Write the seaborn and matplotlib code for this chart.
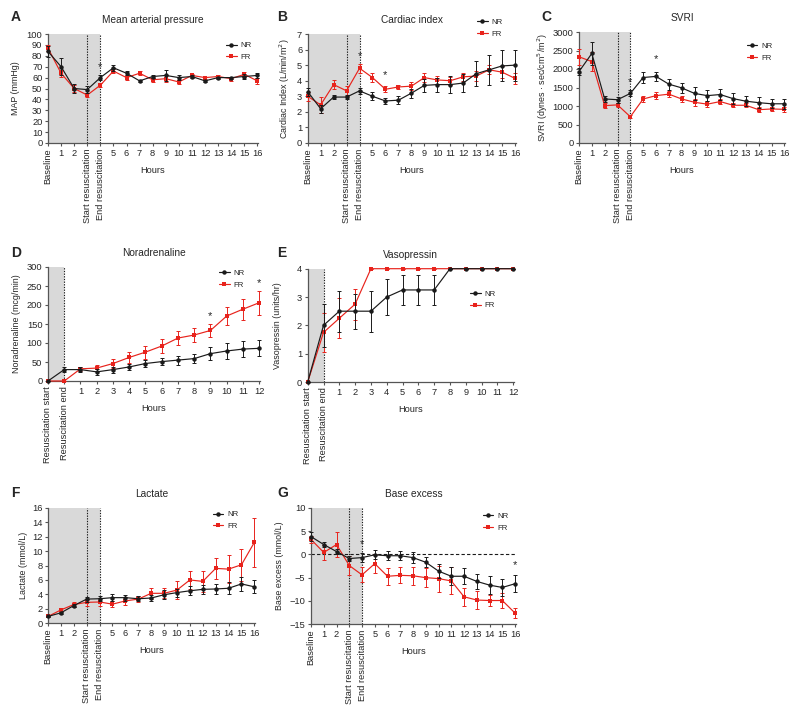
import numpy as np
import matplotlib
matplotlib.use('Agg')
import matplotlib.pyplot as plt
import seaborn as sns

# ---- data ----
hours_long = ['Baseline', '1', '2', 'Start resuscitation', 'End resuscitation'] + \
             [str(h) for h in range(5, 17)]
hours_short = ['Resuscitation start', 'Resuscitation end'] + [str(h) for h in range(1, 13)]

map_nr     = [84, 70, 50, 49, 60, 69, 64, 57, 61, 62, 60, 61, 57, 60, 60, 61, 62]
map_nr_err = [5, 8, 4, 3, 2, 3, 2, 1, 1, 5, 2, 1, 1, 1, 1, 2, 2]
map_fr     = [87, 64, 50, 44, 53, 66, 60, 64, 58, 59, 56, 62, 60, 61, 59, 63, 57]
map_fr_err = [3, 3, 3, 2, 2, 2, 2, 2, 2, 3, 2, 1, 1, 1, 2, 2, 3]
map_stars  = [(4, 70)]

ci_nr     = [3.3, 2.2, 2.95, 2.95, 3.35, 3.0, 2.7, 2.75, 3.2, 3.7, 3.75, 3.75, 3.85, 4.45, 4.7, 4.95, 5.0]
ci_nr_err = [0.25, 0.25, 0.15, 0.15, 0.2, 0.25, 0.2, 0.25, 0.3, 0.4, 0.45, 0.55, 0.6, 0.8, 0.95, 1.0, 1.0]
ci_fr     = [3.0, 2.45, 3.75, 3.35, 4.8, 4.2, 3.45, 3.6, 3.65, 4.2, 4.05, 4.0, 4.25, 4.3, 4.7, 4.55, 4.15]
ci_fr_err = [0.3, 0.5, 0.3, 0.3, 0.3, 0.3, 0.2, 0.15, 0.25, 0.3, 0.25, 0.25, 0.25, 0.3, 0.3, 0.4, 0.35]
ci_stars  = [(4, 5.6), (6, 4.35)]

svri_nr     = [1930, 2420, 1190, 1170, 1340, 1770, 1800, 1590, 1490, 1340, 1280, 1310, 1200, 1130, 1090, 1060, 1060]
svri_nr_err = [100, 300, 80, 80, 80, 160, 130, 150, 140, 170, 150, 150, 140, 140, 140, 120, 140]
svri_fr     = [2330, 2200, 1010, 1030, 710, 1190, 1280, 1320, 1190, 1100, 1050, 1120, 1020, 1020, 900, 920, 910]
svri_fr_err = [220, 250, 70, 60, 40, 90, 90, 90, 90, 100, 90, 60, 50, 60, 70, 50, 60]
svri_stars  = [(4, 1640), (6, 2280)]

nor_nr     = [0, 30, 30, 24, 30, 37, 46, 51, 55, 59, 72, 79, 84, 86]
nor_nr_err = [0, 7, 7, 7, 8, 9, 10, 10, 12, 12, 17, 20, 21, 21]
nor_fr     = [0, 0, 32, 34, 46, 62, 76, 92, 113, 121, 133, 171, 189, 206]
nor_fr_err = [0, 0, 5, 8, 12, 15, 17, 18, 19, 18, 18, 24, 28, 32]
nor_stars  = [(10, 172), (13, 258)]

vaso_nr     = [0, 2.0, 2.5, 2.5, 2.5, 3.0, 3.25, 3.25, 3.25, 4, 4, 4, 4, 4]
vaso_nr_err = [0, 0.75, 0.72, 0.62, 0.72, 0.65, 0.52, 0.52, 0.52, 0, 0, 0, 0, 0]
vaso_fr     = [0, 1.75, 2.25, 2.75, 4, 4, 4, 4, 4, 4, 4, 4, 4, 4]
vaso_fr_err = [0, 0.7, 0.7, 0.55, 0, 0, 0, 0, 0, 0, 0, 0, 0, 0]

lac_nr     = [0.95, 1.45, 2.45, 3.35, 3.4, 3.55, 3.55, 3.4, 3.5, 3.95, 4.25, 4.5, 4.7, 4.75, 4.85, 5.45, 5.05]
lac_nr_err = [0.1, 0.15, 0.25, 0.35, 0.35, 0.45, 0.4, 0.35, 0.45, 0.6, 0.55, 0.6, 0.65, 0.75, 0.8, 1.0, 0.9]
lac_fr     = [0.95, 1.85, 2.6, 2.9, 2.95, 2.65, 3.1, 3.35, 4.15, 4.15, 4.6, 6.0, 5.8, 7.6, 7.5, 8.1, 11.2]
lac_fr_err = [0.1, 0.2, 0.4, 0.5, 0.5, 0.45, 0.5, 0.4, 0.8, 0.7, 1.2, 1.2, 1.4, 1.5, 1.95, 2.25, 3.4]

be_nr     = [3.8, 2.1, 0.6, -0.9, -0.7, -0.1, -0.3, -0.3, -0.7, -1.7, -3.6, -4.7, -4.7, -5.8, -6.6, -7.1, -6.3]
be_nr_err = [0.9, 0.5, 0.5, 0.6, 1.0, 1.0, 1.0, 1.0, 1.1, 1.1, 1.5, 1.9, 1.7, 1.6, 1.9, 1.8, 1.8]
be_fr     = [3.2, 0.4, 2.1, -2.4, -4.4, -2.0, -4.7, -4.5, -4.6, -5.0, -5.2, -5.7, -9.1, -9.8, -9.9, -9.9, -12.6]
be_fr_err = [0.8, 1.6, 2.7, 2.0, 1.6, 2.1, 1.8, 1.7, 1.9, 2.1, 2.8, 2.9, 1.9, 1.9, 1.1, 1.6, 1.1]
be_stars  = [(4, 2.3), (16, -2.2)]

# ---- style ----
sns.set_theme(style='ticks')
plt.rcParams['font.family'] = ['Liberation Sans', 'DejaVu Sans']
RED = '#e8231c'
GREY = '#555555'
W, H = 800, 714

fig = plt.figure(figsize=(8, 7.14), dpi=100)


def panel(box, letter, letter_xy, title, ylabel, ylab_x, labels, nr, nr_err, fr, fr_err,
          yticks, shade_to, vlines, stars, leg_xy, zero_line=False):
    x0, y0, x1, y1 = box
    ax = fig.add_axes([x0 / W, 1 - y1 / H, (x1 - x0) / W, (y1 - y0) / H])
    pos = np.arange(len(labels))
    ax.axvspan(0, shade_to, color='#d9d9d9', lw=0, zorder=0)
    for v in vlines:
        ax.axvline(v, color='k', ls=(0, (1.2, 1.2)), lw=0.8, zorder=1)
    if zero_line:
        ax.axhline(0, color='k', ls=(0, (3, 2)), lw=0.8, zorder=1)

    ax.errorbar(pos, fr, yerr=fr_err, fmt='none', ecolor=RED, elinewidth=0.7,
                capsize=1.6, capthick=0.7, zorder=3, clip_on=False)
    sns.lineplot(x=pos, y=fr, ax=ax, color=RED, marker='s', markersize=3,
                 markeredgewidth=0, linewidth=0.85, label='FR', zorder=4, clip_on=False)
    ax.errorbar(pos, nr, yerr=nr_err, fmt='none', ecolor='k', elinewidth=0.7,
                capsize=1.6, capthick=0.7, zorder=5, clip_on=False)
    sns.lineplot(x=pos, y=nr, ax=ax, color='k', marker='o', markersize=3.2,
                 markeredgewidth=0, linewidth=0.85, label='NR', zorder=6, clip_on=False)

    for sx, sy in stars:
        ax.text(sx, sy, '*', ha='center', va='center', fontsize=8)

    ax.set_xlim(0, len(labels) - 1 + 0.05)
    ax.set_ylim(yticks[0], yticks[-1])
    ax.set_yticks(yticks)
    ax.set_xticks(pos)
    ax.set_xticklabels(labels)
    for lbl in ax.get_xticklabels():
        if not lbl.get_text().isdigit():
            lbl.set_rotation(90)
    ax.tick_params(axis='both', labelsize=6.7, length=2.5, width=0.8, color=GREY, pad=1.5)
    for s in ['left', 'bottom']:
        ax.spines[s].set_color(GREY)
        ax.spines[s].set_linewidth(0.9)
    sns.despine(ax=ax)

    ax.set_title(title, fontsize=7.3, pad=8)
    ax.set_ylabel(ylabel, fontsize=6.4, va='center')
    ax.yaxis.set_label_coords((ylab_x - x0) / (x1 - x0), 0.5)
    ax.set_xlabel('')
    ax.text(0.5, -27.5 / (y1 - y0), 'Hours', transform=ax.transAxes,
            ha='center', va='center', fontsize=6.7)

    h, l = ax.get_legend_handles_labels()
    order = [l.index('NR'), l.index('FR')]
    ax.legend([h[i] for i in order], [l[i] for i in order], loc='upper left',
              bbox_to_anchor=leg_xy, frameon=False, fontsize=5.6, borderpad=0,
              borderaxespad=0, handlelength=1.35, handletextpad=0.5, labelspacing=0.55)

    fig.text(letter_xy[0] / W, 1 - letter_xy[1] / H, letter, fontsize=10,
             fontweight='bold', ha='left', va='center')
    return ax


panel((48, 34, 258, 143), 'A', (11, 17), 'Mean arterial pressure', 'MAP (mmHg)', 15,
      hours_long, map_nr, map_nr_err, map_fr, map_fr_err, list(range(0, 101, 10)),
      4, [3, 4], map_stars, (0.848, 0.927))
panel((307.7, 34, 515.7, 143), 'B', (277, 17), 'Cardiac index', 'Cardiac Index (L/min/m$^2$)', 285,
      hours_long, ci_nr, ci_nr_err, ci_fr, ci_fr_err, list(range(0, 8)),
      4, [3, 4], ci_stars, (0.814, 1.142))
panel((579, 32, 785, 143), 'C', (541, 17), 'SVRI', 'SVRI (dynes · sec/cm$^5$/m$^2$)', 543,
      hours_long, svri_nr, svri_nr_err, svri_fr, svri_fr_err, list(range(0, 3001, 500)),
      4, [3, 4], svri_stars, (0.814, 0.905))
panel((48, 267, 260, 381), 'D', (11, 253), 'Noradrenaline', 'Noradrenaline (mcg/min)', 17,
      hours_short, nor_nr, nor_nr_err, nor_fr, nor_fr_err, list(range(0, 301, 50)),
      1, [1], nor_stars, (0.807, 0.978))
panel((307.7, 268.7, 514, 382), 'E', (277, 253), 'Vasopressin', 'Vasopressin (units/hr)', 278,
      hours_short, vaso_nr, vaso_nr_err, vaso_fr, vaso_fr_err, list(range(0, 5)),
      1, [1], [], (0.787, 0.810))
panel((48, 507.7, 255, 623.3), 'F', (11, 493), 'Lactate', 'Lactate (mmol/L)', 23,
      hours_long, lac_nr, lac_nr_err, lac_fr, lac_fr_err, list(range(0, 17, 2)),
      4, [3, 4], [], (0.797, 0.971))
panel((311, 507.7, 515.7, 624.3), 'G', (277, 493), 'Base excess', 'Base excess (mmol/L)', 279,
      hours_long, be_nr, be_nr_err, be_fr, be_fr_err, list(range(-15, 11, 5)),
      4, [3, 4], be_stars, (0.84, 0.959), zero_line=True)

fig.savefig('out.png', dpi=100)
